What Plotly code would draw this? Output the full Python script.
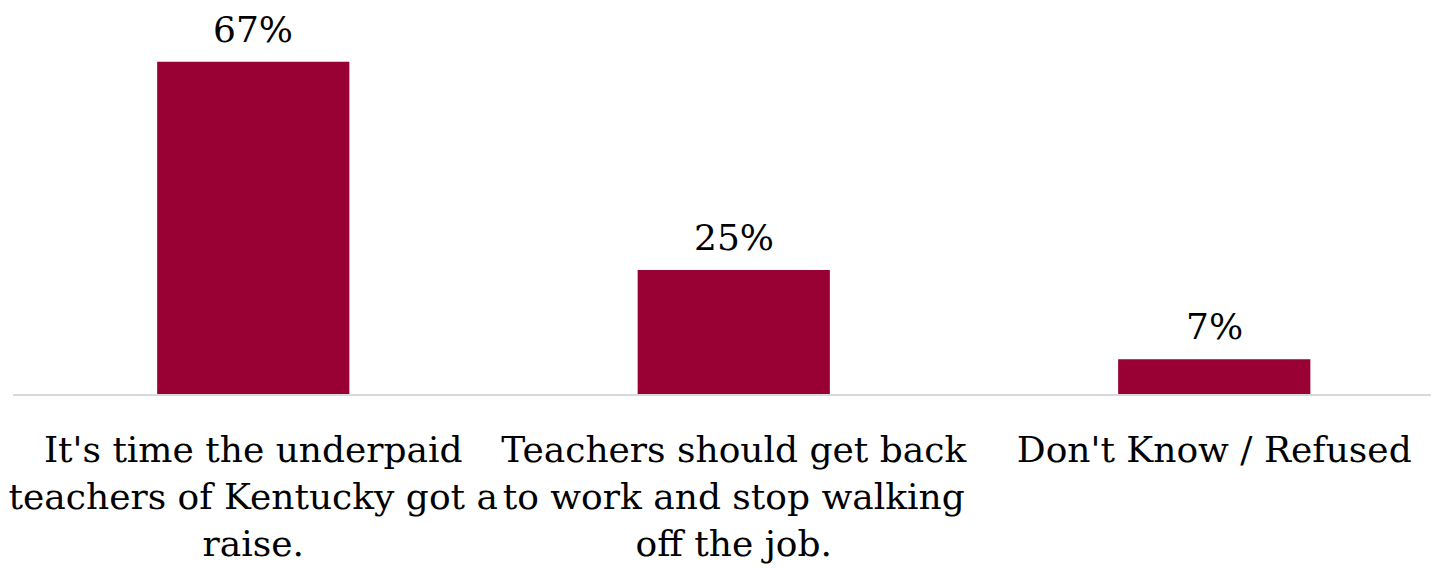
import plotly.graph_objects as go

categories = [
    "It's time the underpaid<br>teachers of Kentucky got a<br>raise.",
    "Teachers should get back<br>to work and stop walking<br>off the job.",
    "Don't Know / Refused",
]
values = [67, 25, 7]
labels = ["67%", "25%", "7%"]

FONT = "DejaVu Serif"
FS = 36
xs = list(range(len(categories)))

fig = go.Figure()
fig.add_trace(go.Bar(
    x=xs, y=values, width=0.4,
    marker=dict(color="#990033", line=dict(width=0)),
    hoverinfo="skip",
))
for x, v, t in zip(xs, values, labels):
    fig.add_annotation(x=x, y=v, text=t, showarrow=False, yanchor="bottom",
                       yshift=10, font=dict(family=FONT, size=FS, color="#000000"))

fig.update_layout(
    width=1439, height=568,
    margin=dict(l=5, r=0, t=39, b=182, autoexpand=False),
    paper_bgcolor="white", plot_bgcolor="white",
    showlegend=False,
    font=dict(family=FONT, size=FS, color="#000000"),
    xaxis=dict(
        tickmode="array", tickvals=xs, ticktext=categories,
        range=[-0.5, -0.5 + 1434 / 480.5],
        showline=True, linecolor="#d9d9d9", linewidth=2,
        showgrid=False, zeroline=False,
        ticks="outside", ticklen=23, tickcolor="rgba(0,0,0,0)",
        ticklabeloverflow="allow", automargin=False,
        tickfont=dict(family=FONT, size=FS, color="#000000"),
        tickangle=0,
    ),
    yaxis=dict(range=[0, 70], visible=False, showgrid=False, zeroline=False),
)

fig.write_html("out.html")
